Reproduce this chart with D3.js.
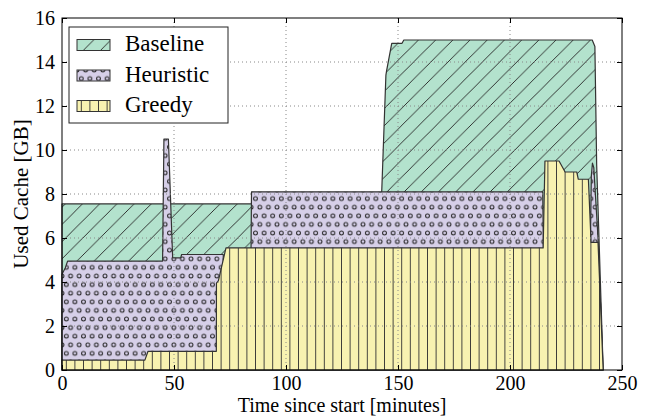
<!DOCTYPE html>
<html>
<head>
<meta charset="utf-8">
<script src="https://cdn.jsdelivr.net/npm/d3@7"></script>
<style>
  body { margin: 0; background: #fff; }
  svg text { font-family: "Liberation Serif", "Times New Roman", serif; }
</style>
</head>
<body>
<div id="chart"></div>
<script>
// series, drawn in this order (later ones cover earlier ones)
const seriesNames = ["Baseline", "Heuristic", "Greedy"];

// [minutes, GB]
const baseline = [
  [0, 7.55], [84.6, 7.55], [84.8, 8.0], [142.7, 8.0], [144.6, 13.4], [144.9, 13.6],
  [147.2, 14.85], [151.8, 14.85], [152.6, 15.0], [236.7, 15.0], [237.9, 14.7],
  [238.7, 9.3], [241.6, 0]
];
const heuristic = [
  [0, 4.35], [1.5, 4.65], [2.5, 4.95], [44.9, 4.95], [45.5, 10.5], [47.5, 10.5],
  [49.4, 5.1], [53.0, 5.1], [53.4, 5.25], [72.0, 5.25], [72.05, 4.55], [72.3, 3.0],
  [84.2, 3.0], [84.6, 8.1], [214.6, 8.1], [215.0, 5.0], [235.8, 5.0], [236.3, 8.8],
  [236.8, 9.4], [237.4, 9.2], [239.3, 6.0], [241.5, 0]
];
const greedy = [
  [0, 0.45], [37.0, 0.45], [38.4, 0.85], [68.9, 0.85], [68.95, 3.95], [69.8, 4.05],
  [73.2, 5.55], [214.8, 5.55], [215.6, 9.5], [221.9, 9.5], [224.6, 9.0], [229.8, 9.0],
  [230.5, 8.67], [235.0, 8.67], [236.2, 5.8], [239.3, 5.8], [241.6, 0]
];

const xTicks = [0, 50, 100, 150, 200, 250];
const yTicks = [0, 2, 4, 6, 8, 10, 12, 14, 16];

const fills = ["#b3e2cd", "#d6cfe8", "#f8f2b1"];
const patternIds = ["hatch-diag", "hatch-circles", "hatch-vert"];

const width = 649, height = 420;
const margin = {top: 18, right: 27, bottom: 50, left: 62};
const w = width - margin.left - margin.right,
      h = height - margin.top - margin.bottom;
const p = 8.6; // hatch period

const svg = d3.select("#chart").append("svg")
  .attr("width", width)
  .attr("height", height);

// hatch patterns
const defs = svg.append("defs");

const diag = defs.append("pattern")
  .attr("id", patternIds[0])
  .attr("patternUnits", "userSpaceOnUse")
  .attr("width", 2 * p).attr("height", 2 * p);
diag.append("rect").attr("width", 2 * p).attr("height", 2 * p).attr("fill", fills[0]);
[[0, 2 * p, 2 * p, 0], [-1, 1, 1, -1], [2 * p - 1, 2 * p + 1, 2 * p + 1, 2 * p - 1]].forEach(function(l) {
  diag.append("line")
    .attr("x1", l[0]).attr("y1", l[1]).attr("x2", l[2]).attr("y2", l[3])
    .attr("stroke", "#222").attr("stroke-width", 0.9);
});

const circ = defs.append("pattern")
  .attr("id", patternIds[1])
  .attr("patternUnits", "userSpaceOnUse")
  .attr("width", p).attr("height", 2 * p);
circ.append("rect").attr("width", p).attr("height", 2 * p).attr("fill", fills[1]);
[[0, 0], [p, 0], [0, 2 * p], [p, 2 * p], [p / 2, p]].forEach(function(c) {
  circ.append("circle")
    .attr("cx", c[0]).attr("cy", c[1]).attr("r", 1.9)
    .attr("fill", "none").attr("stroke", "#222").attr("stroke-width", 1);
});

const vert = defs.append("pattern")
  .attr("id", patternIds[2])
  .attr("patternUnits", "userSpaceOnUse")
  .attr("width", p).attr("height", p);
vert.append("rect").attr("width", p).attr("height", p).attr("fill", fills[2]);
vert.append("line")
  .attr("x1", p / 2).attr("y1", 0).attr("x2", p / 2).attr("y2", p)
  .attr("stroke", "#333").attr("stroke-width", 0.9);

const g = svg.append("g")
  .attr("transform", "translate(" + margin.left + "," + margin.top + ")");

const x = d3.scaleLinear().domain([0, 250]).range([0, w]);
const y = d3.scaleLinear().domain([0, 16]).range([h, 0]);

const area = d3.area()
  .x(function(d) { return x(d[0]); })
  .y0(y(0))
  .y1(function(d) { return y(d[1]); });

g.selectAll(".series")
  .data([baseline, heuristic, greedy])
  .enter()
  .append("path")
    .attr("class", "series")
    .attr("d", area)
    .attr("fill", function(d, i) { return "url(#" + patternIds[i] + ")"; })
    .attr("stroke", "#333")
    .attr("stroke-width", 1.2)
    .attr("stroke-linejoin", "round");

// dotted grid on top of the areas
g.append("g")
  .selectAll("line")
  .data(xTicks.slice(1, -1))
  .enter()
  .append("line")
    .attr("x1", function(d) { return x(d); })
    .attr("x2", function(d) { return x(d); })
    .attr("y1", 0).attr("y2", h)
    .attr("stroke", "#888").attr("stroke-dasharray", "1,3");
g.append("g")
  .selectAll("line")
  .data(yTicks.slice(1, -1))
  .enter()
  .append("line")
    .attr("x1", 0).attr("x2", w)
    .attr("y1", function(d) { return y(d); })
    .attr("y2", function(d) { return y(d); })
    .attr("stroke", "#888").attr("stroke-dasharray", "1,3");

// axes, ticks pointing inwards on all four sides
function styleAxis(sel) {
  sel.attr("font-family", null).attr("font-size", 20);
  sel.select(".domain").remove();
  sel.selectAll("text").attr("fill", "#000");
  sel.selectAll("line").attr("stroke", "#000");
}

g.append("g")
  .attr("transform", "translate(0," + h + ")")
  .call(d3.axisBottom(x).tickValues(xTicks).tickSize(-5).tickPadding(6))
  .call(styleAxis);
g.append("g")
  .call(d3.axisTop(x).tickValues(xTicks).tickSize(-5).tickFormat(""))
  .call(styleAxis);
g.append("g")
  .call(d3.axisLeft(y).tickValues(yTicks).tickSize(-5).tickPadding(7))
  .call(styleAxis);
g.append("g")
  .attr("transform", "translate(" + w + ",0)")
  .call(d3.axisRight(y).tickValues(yTicks).tickSize(-5).tickFormat(""))
  .call(styleAxis);

g.append("rect")
  .attr("width", w).attr("height", h)
  .attr("fill", "none").attr("stroke", "#000").attr("stroke-width", 1);

// axis titles
svg.append("text")
  .attr("x", margin.left + w / 2)
  .attr("y", 412)
  .attr("text-anchor", "middle")
  .attr("font-size", 20)
  .text("Time since start [minutes]");
svg.append("text")
  .attr("transform", "translate(28," + (margin.top + h / 2) + ")rotate(-90)")
  .attr("text-anchor", "middle")
  .attr("font-size", 21)
  .text("Used Cache [GB]");

// legend
const legend = svg.append("g").attr("transform", "translate(69,27)");
legend.append("rect")
  .attr("width", 159).attr("height", 96)
  .attr("fill", "#fff").attr("stroke", "#222").attr("stroke-width", 1);
const item = legend.selectAll(".item")
  .data(seriesNames)
  .enter()
  .append("g")
    .attr("class", "item")
    .attr("transform", function(d, i) { return "translate(8," + (12.5 + i * 30.5) + ")"; });
item.append("rect")
  .attr("width", 33).attr("height", 11)
  .attr("fill", function(d, i) { return "url(#" + patternIds[i] + ")"; })
  .attr("stroke", "#333").attr("stroke-width", 1);
item.append("text")
  .attr("x", 48).attr("y", 11.5)
  .attr("font-size", 23)
  .text(function(d) { return d; });
</script>
</body>
</html>
